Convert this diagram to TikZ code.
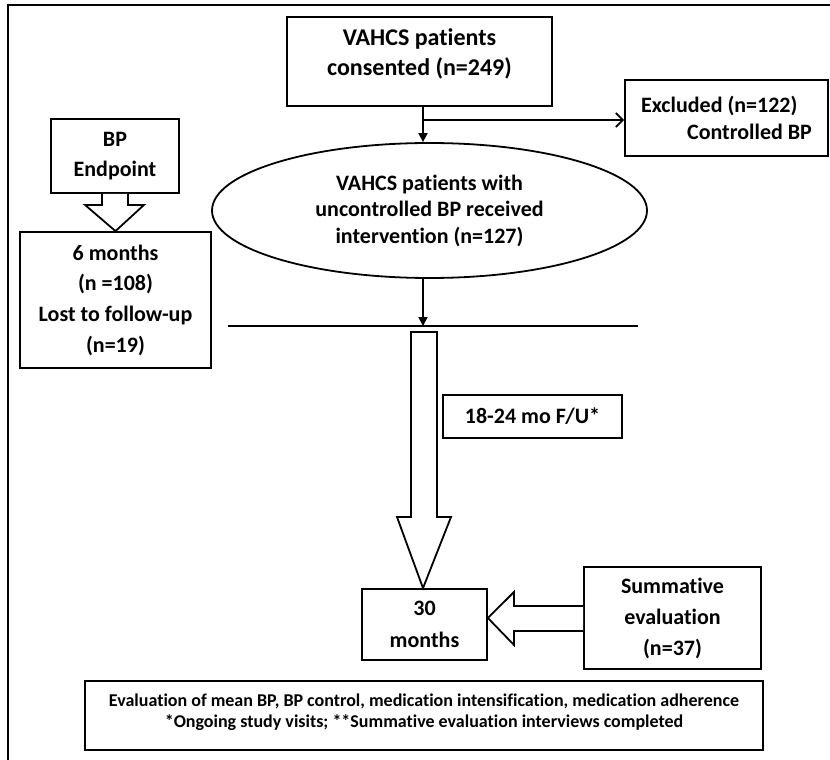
\documentclass[tikz,border=0pt]{standalone}
\usepackage{fontspec}
\setmainfont{Carlito}[Ligatures={NoCommon}]
\usetikzlibrary{shapes.geometric,arrows.meta,calc}
\tikzset{
  box/.style={draw, line width=1.8pt, inner sep=0pt, align=center, font=\bfseries\fontsize{22}{30}\selectfont},
  conn/.style={line width=1.8pt},
  blockarrow/.style={draw, line width=1.8pt, line join=miter, fill=white},
}
\begin{document}
\begin{tikzpicture}[x=1pt,y=-1pt]
\useasboundingbox (0,0) rectangle (830,760);
% frame (clipped at right and bottom)
\draw[line width=1.8pt] (8,770) -- (8,5) -- (840,5);
% nodes
\node[box, minimum width=265pt, minimum height=89pt, font=\bfseries\fontsize{24}{30}\selectfont, text depth=18pt] (top) at (419.5,61.5) {VAHCS patients\\consented (n=249)};
\node[box, minimum width=203pt, minimum height=76pt, align=left, font=\bfseries\fontsize{22}{27}\selectfont] (excl) at (726.5,118) {Excluded (n=122)\\\hspace*{46pt}Controlled BP};
\node[box, ellipse, minimum width=435pt, minimum height=135pt, font=\bfseries\fontsize{22}{26.5}\selectfont] (ell) at (429.5,210.5) {VAHCS patients with\\uncontrolled BP received\\intervention (n=127)};
\node[box, minimum width=128pt, minimum height=74pt] (bp) at (115,156) {BP\\Endpoint};
\node[box, minimum width=191pt, minimum height=136pt, font=\bfseries\fontsize{22}{30.7}\selectfont] (six) at (115.5,300) {6 months\\(n =108)\\Lost to follow-up\\(n=19)};
\node[box, minimum width=179pt, minimum height=43pt] (fu) at (532.5,416.5) {18-24 mo F/U*};
\node[box, minimum width=125pt, minimum height=71pt, font=\bfseries\fontsize{22}{32}\selectfont] (thirty) at (424.5,624.5) {30\\months};
\node[box, minimum width=177pt, minimum height=102pt, font=\bfseries\fontsize{22}{31}\selectfont] (summ) at (672.5,618) {Summative\\evaluation\\(n=37)};
\node[box, minimum width=678pt, minimum height=69pt, font=\bfseries\fontsize{18}{21}\selectfont, text depth=9pt] (bottom) at (424,715.5) {Evaluation of mean BP, BP control, medication intensification, medication adherence\\*Ongoing study visits; **Summative evaluation interviews completed};
% coordinates
\coordinate (split) at (423,120);
\coordinate (hl) at (228,326);
\coordinate (hr) at (638,326);
% connectors
\draw[conn, -{Triangle[length=9pt,width=9pt]}] (top.south -| split) -- (ell.north -| split);
\draw[conn, -{Straight Barb[length=7pt,width=14pt]}] (split) -- (split -| excl.west);
\draw[conn, -{Triangle[length=9pt,width=9pt]}] (ell.south -| split) -- (hl -| split);
\draw[conn] (hl) -- (hr);
% BP block arrow
\draw[blockarrow] ($(bp.south)+(-13,0)$) -- ++(0,11) -- ++(-17,0) -- (six.north) -- ($(bp.south)+(29,11)$) -- ++(-16,0) -- ($(bp.south)+(13,0)$);
% big block arrow
\draw[blockarrow] (411,332) -- (411,517) -- (397,517) -- (thirty.north -| 423,0) -- (451,517) -- (437,517) -- (437,332) -- cycle;
% summative block arrow
\draw[blockarrow] (summ.west |- 0,606) -- (514,606) -- (514,592) -- (thirty.east |- 0,618) -- (514,645) -- (514,631) -- (summ.west |- 0,631);
\end{tikzpicture}
\end{document}
